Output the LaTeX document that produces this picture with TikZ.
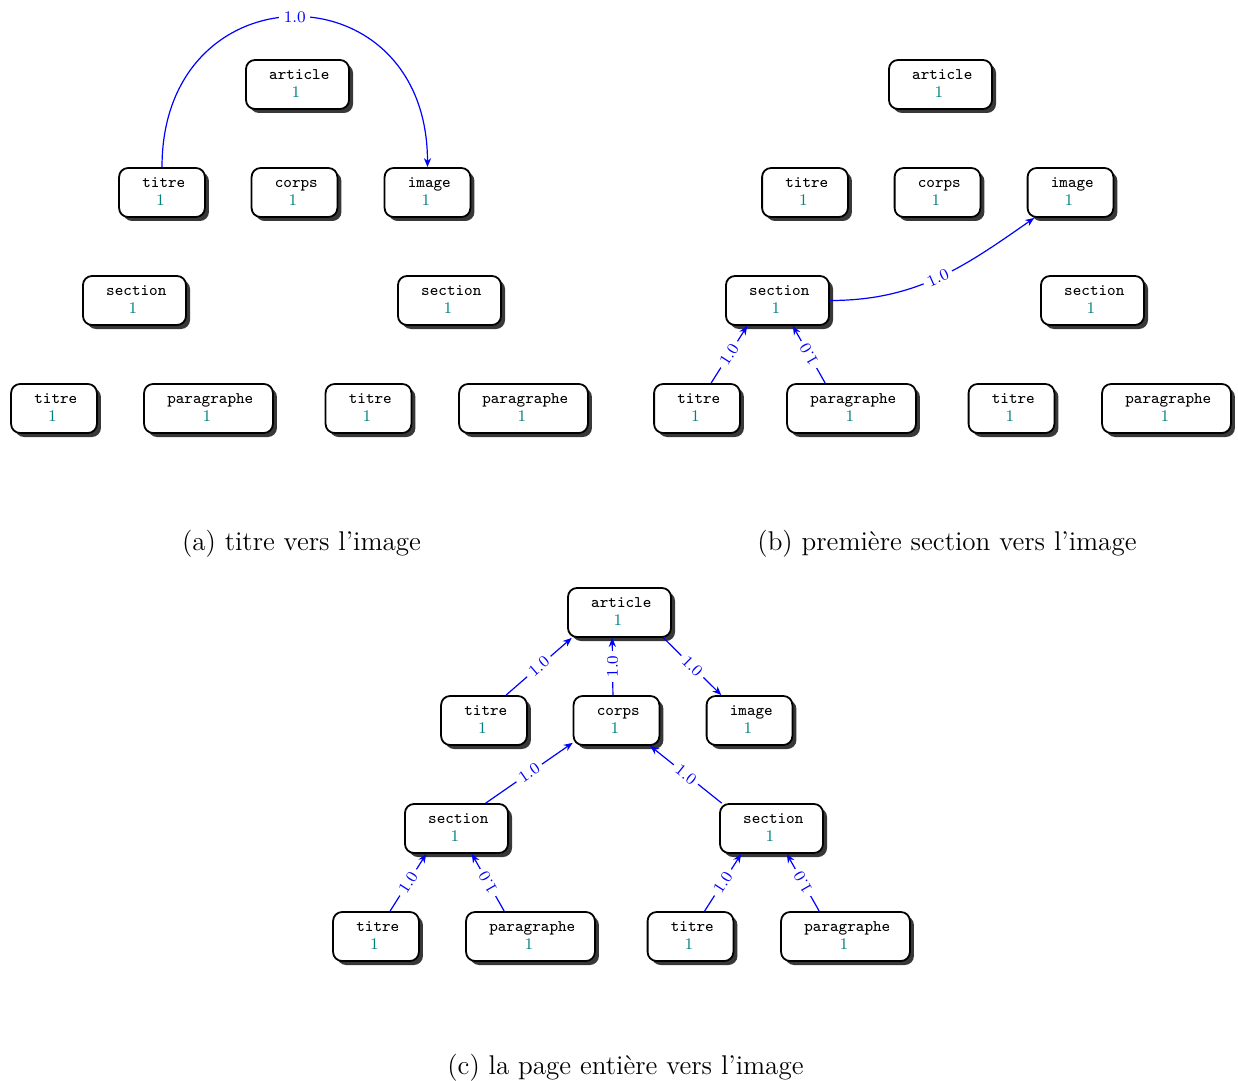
\documentclass[tikz,border=0pt]{standalone}
\usepackage{fontspec}
\usetikzlibrary{shadows,arrows.meta}
% node content: element name in typewriter, weight below in teal
\newcommand\boite[1]{%
  \hspace*{0.9pt}\texttt{\vphantom{Al}#1}\hspace*{-0.9pt}\\
  \hspace*{-0.8pt}\textcolor{teal}{1}\hspace*{0.8pt}\rule[-1pt]{0pt}{0pt}}
% one document tree; #1 is the prefix of the node names
\newcommand\arbre[1]{%
  \node[nd] (#1art)   at (297.5,-84.5)  {\boite{article}};
  \node[nd] (#1t0)    at (162,-192.5)   {\boite{titre}};
  \node[nd] (#1corps) at (294.5,-192.5) {\boite{corps}};
  \node[nd] (#1img)   at (427.5,-192.5) {\boite{image}};
  \node[nd] (#1s1)    at (134.5,-300.5) {\boite{section}};
  \node[nd] (#1s2)    at (449.5,-300.5) {\boite{section}};
  \node[nd] (#1t1)    at (54,-408.5)    {\boite{titre}};
  \node[nd] (#1p1)    at (208.5,-408.5) {\boite{paragraphe}};
  \node[nd] (#1t2)    at (368.5,-408.5) {\boite{titre}};
  \node[nd] (#1p2)    at (523.5,-408.5) {\boite{paragraphe}};
}
\begin{document}
\begin{tikzpicture}[x=0.5pt,y=0.5pt,
  nd/.style={draw=black, line width=0.9pt, rounded corners=4.5pt, fill=white,
    align=center, inner xsep=10.7pt, inner ysep=0pt, minimum height=24.5pt,
    font=\fontsize{8.1}{9.2}\selectfont,
    drop shadow={shadow xshift=2pt, shadow yshift=-2pt, fill=black!78, opacity=1}},
  ed/.style={draw=blue, line width=0.6pt, -{Stealth[length=4.5pt,width=3.6pt]}},
  lb/.style={fill=white, text=blue, font=\fontsize{8.1}{9}\selectfont, sloped, inner sep=2.2pt},
  legende/.style={anchor=base, font=\fontsize{13.55}{16}\selectfont}]
\useasboundingbox (0,0) rectangle (1238,-1081);

% (a)
\begin{scope}
  \arbre{a-}
\end{scope}
\draw[ed] (a-t0.north) .. controls +(0,200) and +(0,200) .. node[lb]{1.0} (a-img.north);
\node[legende] (capa) at (301.5,-550) {(a) titre vers l'image};

% (b)
\begin{scope}[shift={(643,0)}]
  \arbre{b-}
\end{scope}
\draw[ed] (b-t1.61) -- node[lb]{1.0} (b-s1.220);
\draw[ed] (b-p1.136) -- node[lb, allow upside down]{1.0} (b-s1.301);
\draw[ed] (b-s1.east) to[out=0,in=215] node[lb]{1.0} (b-img);
\node[legende] (capb) at (947,-550) {(b) première section vers l'image};

% (c)
\begin{scope}[shift={(322,-528)}]
  \arbre{c-}
\end{scope}
\draw[ed] (c-t0.49) -- node[lb]{1.0} (c-art.208);
\draw[ed] (c-corps.98) -- node[lb, allow upside down]{1.0} (c-art.254);
\draw[ed] (c-art.330) -- node[lb]{1.0} (c-img.138);
\draw[ed] (c-s1.41) -- node[lb]{1.0} (c-corps.207);
\draw[ed] (c-s2.153) -- node[lb]{1.0} (c-corps.323);
\draw[ed] (c-t1.61) -- node[lb]{1.0} (c-s1.220);
\draw[ed] (c-p1.136) -- node[lb, allow upside down]{1.0} (c-s1.301);
\draw[ed] (c-t2.61) -- node[lb]{1.0} (c-s2.220);
\draw[ed] (c-p2.136) -- node[lb, allow upside down]{1.0} (c-s2.301);
\node[legende] (capc) at (625.5,-1074) {(c) la page entière vers l'image};
\end{tikzpicture}
\end{document}
